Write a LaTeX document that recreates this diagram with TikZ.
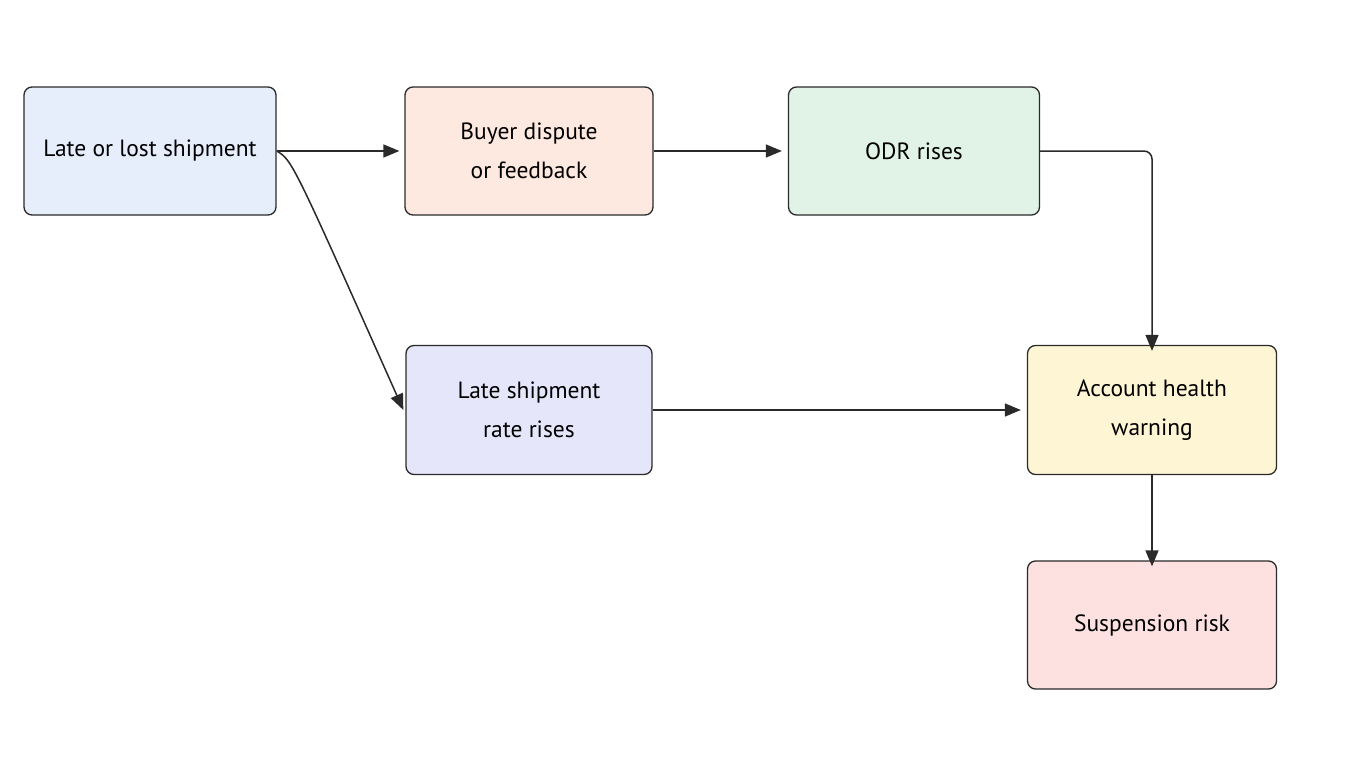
\documentclass[tikz,border=0pt]{standalone}
\usepackage{fontspec}
\setmainfont{PT Sans}
\usetikzlibrary{arrows.meta}
\definecolor{cA}{HTML}{E6EEFC}
\definecolor{cB}{HTML}{FDE9DF}
\definecolor{cC}{HTML}{E1F3E6}
\definecolor{cD}{HTML}{E6E6FA}
\definecolor{cE}{HTML}{FDF5D3}
\definecolor{cF}{HTML}{FDE1E1}
\definecolor{ln}{HTML}{2A2A2A}
\begin{document}
\begin{tikzpicture}[x=1pt,y=-1pt,
 box/.style={draw=ln,line width=1.3pt,rounded corners=8pt,minimum width=250pt,minimum height=128pt,align=center,font=\fontsize{23.5}{39}\selectfont,inner sep=0pt},
 arr/.style={draw=ln,line width=1.5pt,-{Triangle[length=16pt,width=13pt]}}]
\useasboundingbox (0,0) rectangle (1360,768);
\node[box,fill=cA,minimum width=252pt] (a) at (150,151) {Late or lost shipment};
\node[box,fill=cB,minimum width=248pt] (b) at (529,151) {Buyer dispute\\or feedback};
\node[box,fill=cC,minimum width=251pt] (c) at (914,151) {ODR rises};
\node[box,fill=cD,minimum width=246pt,minimum height=129pt] (d) at (529,410) {Late shipment\\rate rises};
\node[box,fill=cE,minimum width=249pt,minimum height=129pt] (e) at (1152,410) {Account health\\warning};
\node[box,fill=cF,minimum width=249pt] (f) at (1152,625) {Suspension risk};
\draw[arr] (a.east) -- ([xshift=-5pt]b.west);
\draw[arr] (b.east) -- ([xshift=-6pt]c.west);
\draw[arr] (a.east) .. controls (292,160) .. ([xshift=-2pt]d.west);
\draw[arr,rounded corners=8pt] (c.east) -- (1152,151) -- ([yshift=-6pt]e.north);
\draw[arr] (d.east) -- ([xshift=-6pt]e.west);
\draw[arr] (e.south) -- ([yshift=-6pt]f.north);
\end{tikzpicture}
\end{document}
